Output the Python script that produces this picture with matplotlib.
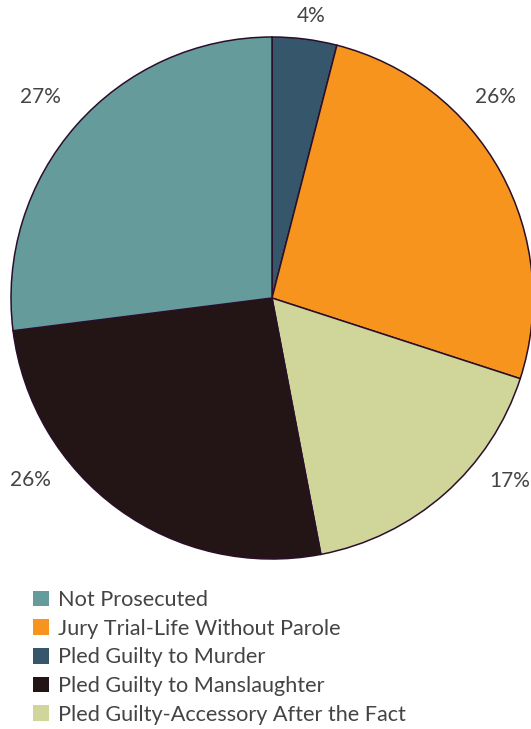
import matplotlib
matplotlib.use("Agg")
import numpy as np
import matplotlib.pyplot as plt
from matplotlib.patches import Patch

# outcome categories, in legend order
categories = ["Not Prosecuted", "Jury Trial-Life Without Parole", "Pled Guilty to Murder",
              "Pled Guilty to Manslaughter", "Pled Guilty-Accessory After the Fact"]
shares = [27, 26, 4, 26, 17]
colors = ["#669b9c", "#f7941e", "#36566c", "#231415", "#d0d69a"]

# wedges run clockwise from 12 o'clock in this order
pie_order = [2, 1, 4, 3, 0]

# where each percentage sits around the pie (degrees, fraction of radius)
label_angle = [82, 42, -37.6, -143, 139]
label_dist = [1.09, 1.15, 1.15, 1.16, 1.175]

plt.rcParams["font.family"] = ["Lato", "DejaVu Sans"]
text_color = "#444444"

fig = plt.figure(figsize=(5.31, 7.29), dpi=100)
ax = fig.add_axes([11 / 531, 1 - 559 / 729, 522 / 531, 522 / 729])

vals = [shares[i] for i in pie_order]
cols = [colors[i] for i in pie_order]
wedges, _ = ax.pie(vals, colors=cols, startangle=90, counterclock=False, radius=1,
                   wedgeprops=dict(edgecolor="#2a0f2a", linewidth=1.1))
for w in wedges:
    w.set_clip_on(False)

for v, a, d in zip(vals, label_angle, label_dist):
    t = np.deg2rad(a)
    ax.text(d * np.cos(t), d * np.sin(t), f"{v}%", ha="center", va="center",
            fontsize=15, color=text_color, clip_on=False)

ax.set_xlim(-1, 1)
ax.set_ylim(-1, 1)
ax.axis("off")

handles = [Patch(facecolor=c, edgecolor="none") for c in colors]
leg = fig.legend(handles, categories, loc="upper left", bbox_to_anchor=(33 / 531, 1 - 590 / 729),
                 frameon=False, fontsize=15.6, handlelength=0.74, handleheight=0.74,
                 handletextpad=0.42, labelspacing=0.4, borderpad=0, borderaxespad=0)
for t in leg.get_texts():
    t.set_color(text_color)

fig.savefig("out.png", dpi=100)
